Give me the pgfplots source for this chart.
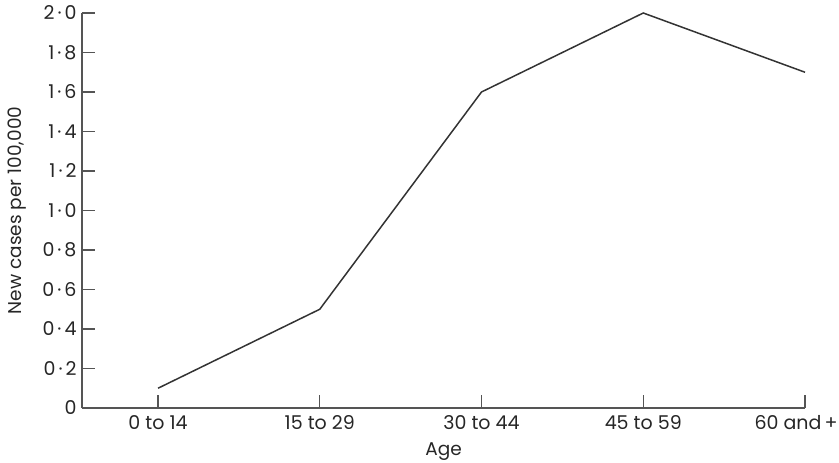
\documentclass[border=0pt]{standalone}
\usepackage{fontspec}
\setmainfont{Poppins}
\usepackage{pgfplots}
\pgfplotsset{compat=1.18}
\definecolor{axisgray}{HTML}{555555}
\definecolor{linegray}{HTML}{333333}
\newcommand{\md}{\hspace{3bp}·\hspace{3bp}}
\begin{document}
\begin{tikzpicture}[font=\fontsize{19bp}{22bp}\selectfont]
\begin{axis}[
  scale only axis,
  width=723bp, height=395bp,
  xmin=-0.47, xmax=4, ymin=0, ymax=2.0,
  axis lines=left,
  axis line style={-, color=axisgray, line width=1.2pt},
  xtick={0,1,2,3,4},
  xticklabels={0 to 14, 15 to 29, 30 to 44, 45 to 59, {\hspace{-18bp}60 and\hspace{-2bp} +}},
  ytick={0,0.2,0.4,0.6,0.8,1.0,1.2,1.4,1.6,1.8,2.0},
  yticklabels={0,0\md 2,0\md 4,0\md 6,0\md 8,1\md 0,1\md 2,1\md 4,1\md 6,1\md 8,2\md 0},
  tick align=inside,
  major tick length=13bp,
  tick style={color=axisgray, line width=1.2pt},
  every tick label/.style={font=\fontsize{19bp}{22bp}\selectfont, color=black!85},
  label style={font=\fontsize{18.5bp}{22bp}\selectfont, color=black!85},
  xticklabel style={yshift=-4bp},
  yticklabel style={xshift=-2bp},
  xlabel={Age},
  ylabel={New cases per 100,000},
  xlabel style={yshift=-6bp},
  ylabel style={yshift=9bp},
  clip=false,
]
\addplot[color=linegray, line width=1.5pt] coordinates {
  (0,0.1) (1,0.5) (2,1.6) (3,2.0) (4,1.7)
};
\end{axis}
\pgfresetboundingbox
\path[use as bounding box] (-82bp,-55bp) rectangle (757bp,408bp);
\end{tikzpicture}
\end{document}
